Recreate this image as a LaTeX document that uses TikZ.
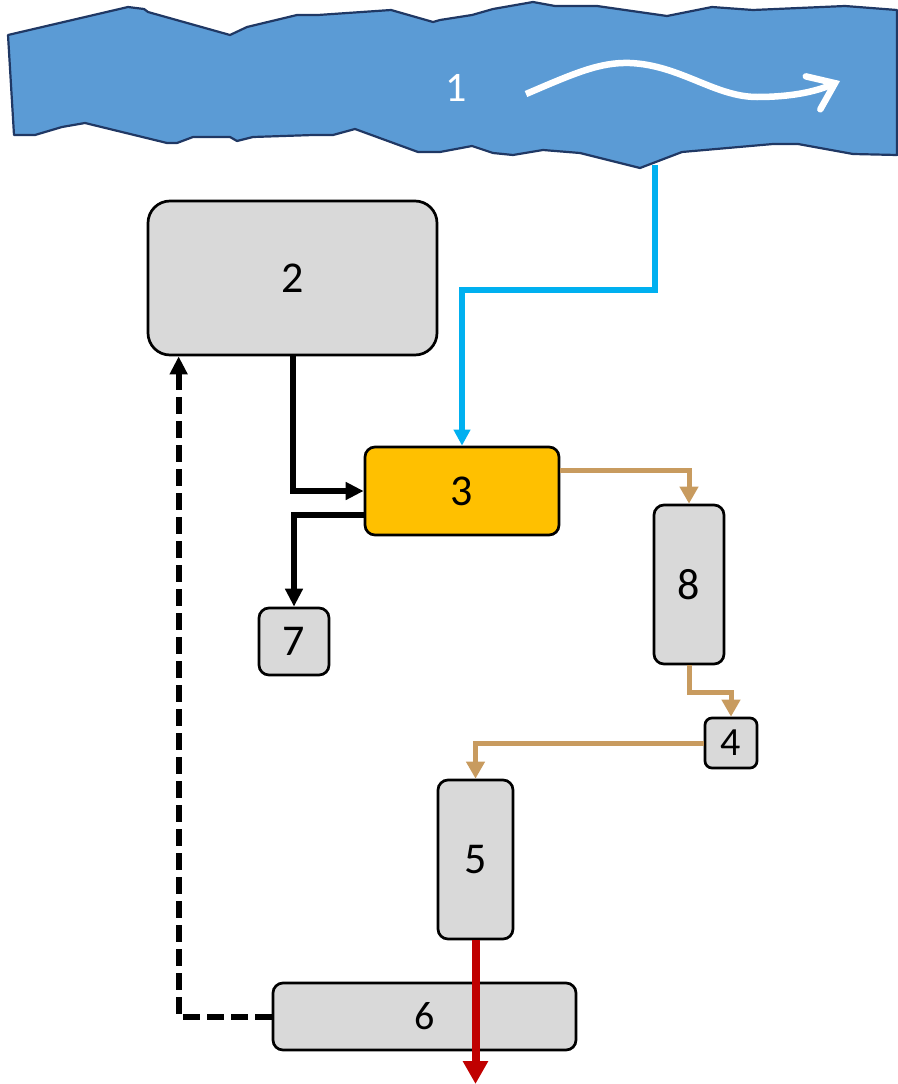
\documentclass[tikz,border=0pt]{standalone}
\usepackage{fontspec}
\setmainfont{Carlito}
\usetikzlibrary{arrows.meta,calc}
\definecolor{riverfill}{HTML}{5B9BD5}
\definecolor{riverline}{HTML}{203864}
\definecolor{boxgray}{HTML}{D9D9D9}
\definecolor{orange3}{HTML}{FFC000}
\definecolor{flowblue}{HTML}{00B0F0}
\definecolor{tan}{HTML}{C89B5F}
\definecolor{darkred}{HTML}{C00000}
\tikzset{
  box/.style={draw=black, line width=2.7pt, fill=boxgray, rounded corners=10pt, inner sep=0pt, font=\fontsize{44}{50}\selectfont},
  blk/.style={draw=black, line width=6pt, -{Triangle[length=18pt,width=17pt]}},
  tanline/.style={draw=tan, line width=5pt, -{Triangle[length=17pt,width=18pt]}},
}
\begin{document}
\begin{tikzpicture}[x=1pt,y=-1pt]
\useasboundingbox (0,0) rectangle (897,1084);
% river
\draw[fill=riverfill, draw=riverline, line width=2.2pt, line join=round]
 (8,35) -- (128,7) -- (144,9) -- (148,12) -- (230,35) -- (247,27) -- (297,15) -- (318,15) -- (391,10) -- (433,22)
 -- (440,20) -- (472,15) -- (493,9) -- (533,2) -- (555,6) -- (597,6) -- (667,16) -- (712,7) -- (753,10) -- (845,6) -- (897,10)
 -- (897,155) -- (853,154) -- (798,144) -- (773,144) -- (682,152) -- (640,168) -- (580,153) -- (543,150) -- (513,155) -- (493,153) -- (472,146) -- (440,152)
 -- (418,152) -- (355,129) -- (333,135) -- (313,135) -- (253,137) -- (237,141) -- (230,137) -- (193,137) -- (177,143) -- (167,143) -- (85,123) -- (62,127) -- (35,135) -- (14,135) -- cycle;
\node[text=white, font=\fontsize{42}{48}\selectfont, inner sep=0pt] (n1) at (456,88) {1};
\coordinate (wstart) at (526,94);
\coordinate (wend) at (840,81);
\draw[white, line width=6.5pt, -{Straight Barb[length=24pt,width=36pt,line cap=round]}]
 (wstart) .. controls (575,73) and (600,62) .. (630,63) .. controls (680,65) and (715,97) .. (757,97) .. controls (790,97) and (815,92) .. (wend);
\coordinate (rivbot) at (655,165);
% boxes
\node[box, rounded corners=22pt, minimum width=289pt, minimum height=154pt] (n2) at (292.5,278) {2};
\node[box, fill=orange3, minimum width=194pt, minimum height=88pt] (n3) at (462,491) {3};
\node[box, minimum width=70pt, minimum height=159pt] (n8) at (689,584.5) {8};
\node[box, minimum width=70pt, minimum height=67pt] (n7) at (294,641.5) {7};
\node[box, rounded corners=7pt, minimum width=52pt, minimum height=50pt, font=\fontsize{40}{46}\selectfont] (n4) at (731,743) {4};
\node[box, minimum width=75pt, minimum height=159pt] (n5) at (475.5,859.5) {5};
\node[box, minimum width=303pt, minimum height=67pt, font=\fontsize{40}{46}\selectfont] (n6) at (424.5,1016.5) {6};
% connectors
\draw[draw=flowblue, line width=6pt, -{Triangle[length=16pt,width=16pt]}] (rivbot) -- ++(0,125) -| (n3.north);
\draw[blk] (n2.south) |- (n3.west);
\draw[blk] ([yshift=-24pt]n3.west) -| (n7.north);
\draw[tanline] ([yshift=21pt]n3.east) -| (n8.north);
\draw[tanline] (n8.south) -- ++(0,27) -| (n4.north);
\draw[tanline] (n4.west) -| (n5.north);
\draw[blk, dash pattern=on 17pt off 7pt] (n6.west) -| ([xshift=32pt]n2.south west);
\coordinate (outflow) at (475.5,1084);
\draw[draw=darkred, line width=8pt, -{Triangle[length=23pt,width=24pt]}] (n5.south) -- (outflow);
\end{tikzpicture}
\end{document}
